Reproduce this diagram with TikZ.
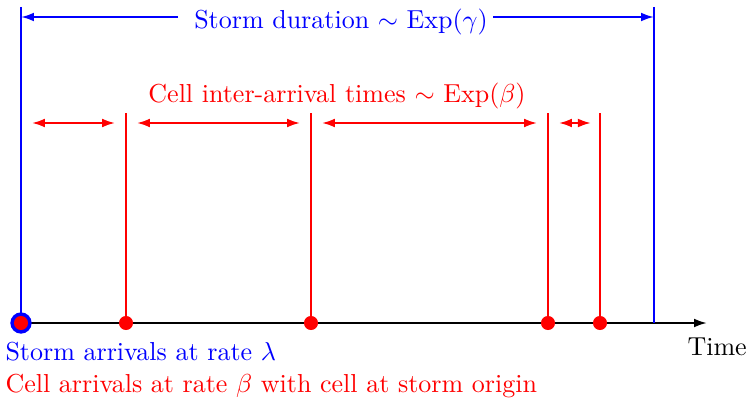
\documentclass[tikz,border=0pt]{standalone}
\usetikzlibrary{arrows.meta}
\begin{document}
\begin{tikzpicture}[x=0.3847pt,y=-0.3847pt,
  ln/.style={line width=0.8pt},
  tipstyle/.style={Latex[length=5pt,width=3.4pt]},
  dimarrow/.style={ln,red,{Latex[length=5pt,width=3.4pt]}-{Latex[length=5pt,width=3.4pt]},shorten <=4.2pt,shorten >=4.2pt},
  blueline/.style={ln,blue},
  redline/.style={ln,red},
  reddot/.style={circle,fill=red,inner sep=0pt,minimum size=5.4pt},
  bluering/.style={circle,fill=blue,inner sep=0pt,minimum size=8.2pt},
  lbl/.style={inner sep=0pt}]
\useasboundingbox (0,0) rectangle (746,401);

% axis
\coordinate (a0) at (14,323);
\coordinate (a1) at (707,323);
\draw[ln,black,-{Latex[length=5pt,width=3.4pt]}] (a0) -- (a1);

% storm boundaries
\coordinate (bL0) at (21,7);
\coordinate (bL1) at (21,323);
\coordinate (bR0) at (654,7);
\coordinate (bR1) at (654,323);
\draw[blueline] (bL0) -- (bL1);
\draw[blueline] (bR0) -- (bR1);

% storm duration label and arrows
\coordinate (sL) at (21,17);
\coordinate (sR) at (654,17);
\node[lbl,blue,anchor=base] (sd) at (341,28) {Storm duration $\sim$ Exp$(\gamma)$};
\draw[blueline,-{Latex[length=5pt,width=3.4pt]}] ([xshift=-6pt]sd.west |- sL) -- (sL);
\draw[blueline,-{Latex[length=5pt,width=3.4pt]}] ([xshift=2pt]sd.east |- sR) -- (sR);

% cell lines
\foreach \i/\x in {1/126,2/311,3/548,4/600}{
  \coordinate (t\i) at (\x,113);
  \coordinate (b\i) at (\x,323);
  \draw[redline] (t\i) -- (b\i);
}

% cell inter-arrival label
\node[lbl,red,anchor=base] (ci) at (337,102) {Cell inter-arrival times $\sim$ Exp$(\beta)$};

% red dimension arrows
\coordinate (c0) at (21,123);
\coordinate (c1) at (126,123);
\coordinate (c2) at (311,123);
\coordinate (c3) at (548,123);
\coordinate (c4) at (600,123);
\draw[dimarrow] (c0) -- (c1);
\draw[dimarrow] (c1) -- (c2);
\draw[dimarrow] (c2) -- (c3);
\draw[dimarrow,shorten >=3.5pt] (c3) -- (c4);

% dots
\node[bluering] (d0b) at (21,323) {};
\node[reddot] (d0) at (21,323) {};
\node[reddot] (d1) at (126,323) {};
\node[reddot] (d2) at (311,323) {};
\node[reddot] (d3) at (548,323) {};
\node[reddot] (d4) at (600,323) {};

% bottom labels
\node[lbl,blue,anchor=base west] (sa) at (5,360) {Storm arrivals at rate $\lambda$};
\node[lbl,red,anchor=base west] (ca) at (5,392) {Cell arrivals at rate $\beta$ with cell at storm origin};
\node[lbl,black,anchor=base west] (tm) at (687,355) {Time};
\end{tikzpicture}
\end{document}
